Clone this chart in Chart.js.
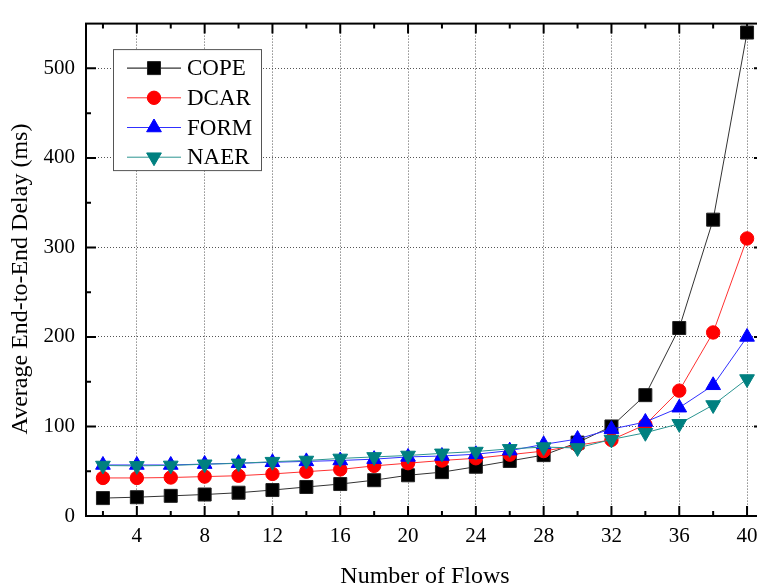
<!DOCTYPE html>
<html>
<head>
<meta charset="utf-8">
<script src="https://cdn.jsdelivr.net/npm/chart.js@4.4.0/dist/chart.umd.min.js"></script>
<style>
  html, body { margin: 0; padding: 0; background: #fff; overflow: hidden; }
  #wrap { width: 780px; height: 585px; }
</style>
</head>
<body>
<div id="wrap"><canvas id="chart-delay" width="780" height="585"></canvas></div>
<script>
const FONT = 'Liberation Serif';

// values
const flows = [2, 4, 6, 8, 10, 12, 14, 16, 18, 20, 22, 24, 26, 28, 30, 32, 34, 36, 38, 40];
const cope = [20, 21, 22.5, 24, 26, 29, 32.4, 35.7, 40, 45.5, 49, 55, 61.5, 68, 82, 100, 135, 210, 331, 540];
const dcar = [42.5, 42.5, 43, 44, 45, 47, 49.5, 52, 56, 59, 62, 64.5, 68.5, 72.5, 79, 85, 102, 140, 205, 310];
const form = [57, 57, 57, 58, 59, 60, 61, 62, 63.5, 66, 67, 69, 73, 80, 86, 97, 105, 121, 146, 200];
const naer = [56.4, 56, 56.5, 57.8, 58.8, 60.7, 62, 64.3, 66, 67.6, 70, 72, 75, 77, 76, 85.5, 93, 103, 124, 153];

const xTicks = [4, 8, 12, 16, 20, 24, 28, 32, 36, 40];
const xMinor = [2, 6, 10, 14, 18, 22, 26, 30, 34, 38];
const yTicks = [0, 100, 200, 300, 400, 500];
const yMinor = [50, 150, 250, 350, 450];

const X_TITLE = 'Number of Flows';
const Y_TITLE = 'Average End-to-End Delay (ms)';

const pts = arr => flows.map((f, i) => ({ x: f, y: arr[i] }));

// closed frame with inward ticks on all four sides, plus axis titles
const framePlugin = {
    id: 'frame',
    beforeDatasetsDraw(chart) {
        const { ctx, chartArea: a, scales: { x, y } } = chart;
        ctx.save();
        ctx.strokeStyle = '#000';
        ctx.lineWidth = 2;
        ctx.beginPath();
        const xt = (vals, len) => vals.forEach(v => {
            const px = x.getPixelForValue(v);
            ctx.moveTo(px, a.bottom); ctx.lineTo(px, a.bottom - len);
            ctx.moveTo(px, a.top); ctx.lineTo(px, a.top + len);
        });
        const yt = (vals, len) => vals.forEach(v => {
            const py = y.getPixelForValue(v);
            ctx.moveTo(a.left, py); ctx.lineTo(a.left + len, py);
            ctx.moveTo(a.right, py); ctx.lineTo(a.right - len, py);
        });
        xt(xTicks, 10); xt(xMinor, 5);
        yt(yTicks, 10); yt(yMinor, 5);
        ctx.stroke();
        ctx.strokeRect(a.left, a.top, a.right - a.left, a.bottom - a.top);

        ctx.fillStyle = '#000';
        ctx.font = `24px "${FONT}"`;
        ctx.textAlign = 'center';
        ctx.textBaseline = 'alphabetic';
        ctx.fillText(X_TITLE, (a.left + a.right) / 2, 583);
        ctx.translate(27, 279);
        ctx.rotate(-Math.PI / 2);
        ctx.fillText(Y_TITLE, 0, 0);
        ctx.restore();
    }
};

// boxed legend inside the plot, top left
const boxLegend = {
    id: 'boxLegend',
    afterDatasetsDraw(chart) {
        const { ctx, chartArea: a } = chart;
        const bx = a.left + 27, by = a.top + 25.5, bw = 148, bh = 121;
        ctx.save();
        ctx.fillStyle = '#fff';
        ctx.fillRect(bx, by, bw, bh);
        ctx.strokeStyle = '#555';
        ctx.lineWidth = 1;
        ctx.strokeRect(bx + 0.5, by + 0.5, bw, bh);
        chart.data.datasets.forEach((ds, i) => {
            const cy = by + 19 + i * 29.7;
            ctx.strokeStyle = ds.legendLine || ds.borderColor;
            ctx.lineWidth = 1;
            ctx.beginPath();
            ctx.moveTo(bx + 14, cy); ctx.lineTo(bx + 68, cy);
            ctx.stroke();
            ctx.fillStyle = ds.backgroundColor;
            ctx.strokeStyle = ds.pointBorderColor;
            Chart.helpers.drawPoint(ctx, {
                pointStyle: ds.pointStyle, radius: ds.pointRadius,
                rotation: ds.pointRotation || 0, borderWidth: 1
            }, bx + 41, cy);
            ctx.fillStyle = '#000';
            ctx.font = `23px "${FONT}"`;
            ctx.textBaseline = 'middle';
            ctx.fillText(ds.label, bx + 74, cy + 1);
        });
        ctx.restore();
    }
};

new Chart(document.getElementById('chart-delay'), {
    type: 'line',
    data: {
        datasets: [
            { label: 'COPE', data: pts(cope), borderColor: '#333', backgroundColor: '#000', pointBorderColor: '#222',
              legendLine: '#000', pointStyle: 'rect', pointRadius: 9.2, order: 3 },
            { label: 'DCAR', data: pts(dcar), borderColor: '#ff3030', backgroundColor: '#ff0000', pointBorderColor: '#ff0000',
              pointStyle: 'circle', pointRadius: 6.7, order: 2 },
            { label: 'FORM', data: pts(form), borderColor: '#3030ff', backgroundColor: '#0000ff', pointBorderColor: '#0000ff',
              pointStyle: 'triangle', pointRadius: 8.5, order: 1 },
            { label: 'NAER', data: pts(naer), borderColor: '#2a9490', backgroundColor: '#008080', pointBorderColor: '#008080',
              pointStyle: 'triangle', pointRotation: 180, pointRadius: 8.5, order: 0 }
        ]
    },
    options: {
        responsive: false,
        animation: false,
        elements: {
            line: { borderWidth: 1, tension: 0 },
            point: { borderWidth: 1, hoverRadius: 9 }
        },
        layout: { padding: { top: 11.5, right: 16, left: 0, bottom: 0 } },
        plugins: { legend: { display: false }, tooltip: { enabled: false } },
        scales: {
            x: {
                type: 'linear', min: 1, max: 41,
                afterBuildTicks: s => { s.ticks = xTicks.map(v => ({ value: v })); },
                afterFit: s => { s.height = 69; },
                grid: { color: '#555', lineWidth: 1, drawTicks: false },
                border: { display: false, dash: [1, 2] },
                ticks: { color: '#000', font: { family: FONT, size: 21 }, padding: 8, autoSkip: false, maxRotation: 0 }
            },
            y: {
                min: 0, max: 550,
                afterBuildTicks: s => { s.ticks = yTicks.map(v => ({ value: v })); },
                afterFit: s => { s.width = 86; },
                grid: { color: '#555', lineWidth: 1, drawTicks: false },
                border: { display: false, dash: [1, 2] },
                ticks: { color: '#000', font: { family: FONT, size: 21 }, padding: 11 }
            }
        }
    },
    plugins: [framePlugin, boxLegend]
});
</script>
</body>
</html>
